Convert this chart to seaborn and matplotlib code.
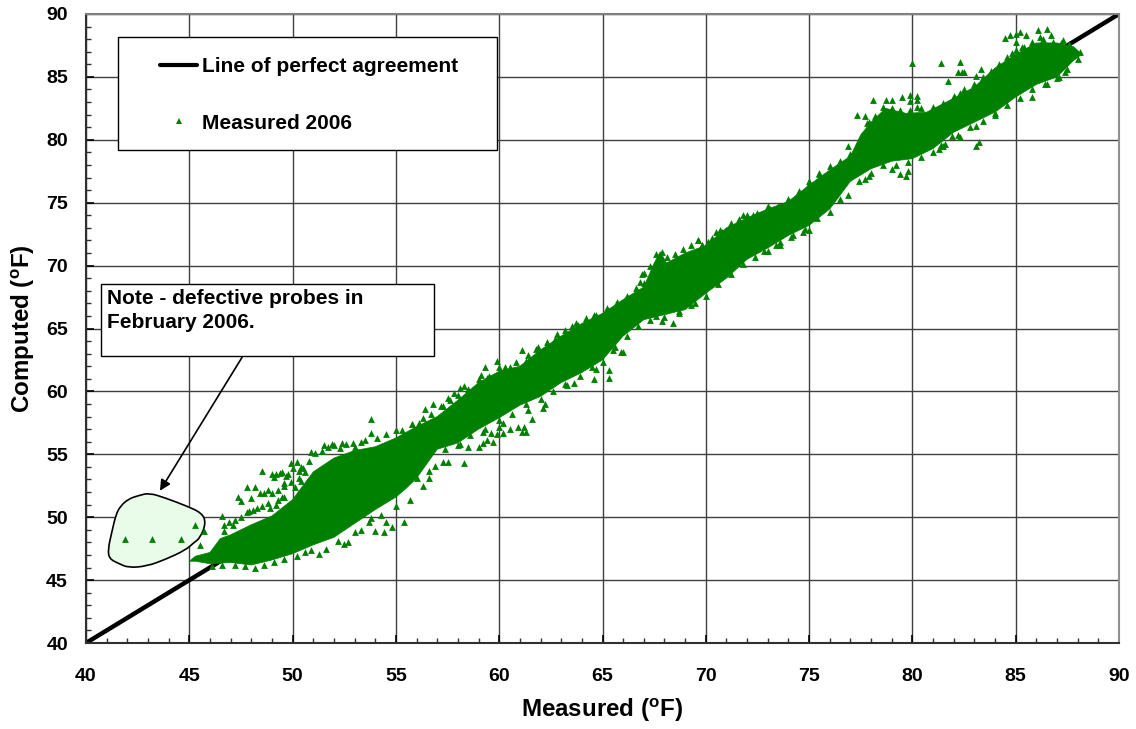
import numpy as np
import matplotlib.pyplot as plt
from matplotlib.patches import Rectangle, PathPatch
from matplotlib.path import Path
from matplotlib.lines import Line2D
import seaborn as sns

upper_x = [45.0, 45.3, 46, 46.5, 47, 48, 49, 50, 51, 52, 53, 54, 55, 56, 57, 58, 59, 60, 61, 62, 63, 64, 65, 66, 67,
           67.5, 67.8, 68.1, 69, 70, 71, 72, 73, 74, 75, 76, 77, 77.5, 78, 78.7, 79.7, 80.7, 82, 83, 84, 85, 86, 87,
           87.8, 88.2]
upper_y = [46.5, 46.9, 47.2, 48.3, 48.6, 49.4, 50.1, 51.4, 53.6, 54.7, 55.3, 55.6, 56.3, 57.2, 58, 59.3, 60.7, 61.6,
           62, 63.3, 64.4, 65.4, 66.2, 67.3, 68.3, 70.2, 71.1, 70.2, 71, 71.6, 73, 73.8, 74.5, 75.1, 76.4, 77.6, 78.7,
           80.4, 81.4, 82.5, 82.1, 82.2, 83.3, 84.2, 85.7, 86.8, 87.7, 87.7, 87.4, 86.8]
lower_x = [45.0, 45.3, 46, 47, 48, 49, 50, 51, 52, 53, 54, 55, 55.5, 56, 57, 58, 59, 60, 61, 62, 63, 64, 65, 66, 67,
           68, 69, 70, 71, 72, 73, 74, 75, 76, 77, 78, 79, 80, 81, 82, 83, 84, 85, 86, 87, 87.8, 88.2]
lower_y = [46.5, 46.5, 46.3, 46.4, 46.2, 46.6, 47.1, 47.8, 48.4, 49.5, 50.6, 51.6, 52.3, 53.1, 55.4, 55.9, 57, 57.9,
           58.9, 59.6, 60.7, 61.5, 62.5, 64.4, 65.7, 66.1, 66.5, 67.8, 69, 70.5, 71.4, 72.4, 73.2, 74.5, 76.7, 77.7,
           78.3, 78.5, 79.3, 80.6, 81.4, 82.2, 83.4, 84.4, 85, 86.3, 86.8]

# single points that stand clear of the dense part
measured = [41.9, 43.2, 44.6, 45.3, 45.7, 45.5, 46.6, 46.7, 46.7, 47.1, 47.35, 47.5, 47.8, 47.8, 48, 48.1, 48.2, 48.4,
            48.5, 48.5, 48.8, 48.8, 49, 49.2, 49.5, 49.8, 49.3, 49.6, 49.6, 49.9, 50.3, 50.5, 50.3, 50.9, 51.5, 51.9,
            52.4, 52.9, 53.3, 53.8, 53.8, 55.8, 50.6, 51.3, 52.7, 53, 54, 54.4, 54.8, 55.4, 54.5, 53.7,
            55.8, 56.1, 56.4, 56.8, 57.2, 57.5, 57.8, 58.1, 58.3, 59.1, 59.3, 59.4, 59.9, 60.5, 61.1, 61.3, 61.8, 62.7,
            63.5, 63.8, 64.7, 65.4, 66.9, 67, 66.8, 69.6, 70.1, 69.8,
            58.1, 58.5, 58.3, 57.5, 57.3, 56.9, 56.6, 56, 59, 59.2, 59.4, 59.7, 60, 60.5, 60.2, 60.9, 61.2, 61.3, 61.1,
            61.6, 61.4, 62.1, 62.2, 63.3, 63.6, 64.6, 65.3, 65.3, 64.7, 65.9, 66, 65.6, 67.9, 68.4, 68.7, 69.5, 67.6,
            59.2, 59.6, 59.9, 60.2,
            69.6, 69.8, 70.1, 70.5, 70.8, 71.8, 72, 72.3, 73.1, 75, 74.7, 74.1, 73.6, 73.4, 72.8, 75, 75.5, 76.9, 77.7,
            77.9, 76.9, 77.3, 77.7, 77.9, 78.1, 78.7, 79, 79.5, 79.9, 80.2, 79.9, 80.2, 80.2, 80, 81.4, 82.3, 82.2,
            82.4, 82.5, 81.7, 83.3, 83.1, 82.5, 82, 82.3, 79, 79.4, 79.7, 79.8, 81.4, 81.3, 81.5, 81.9, 82.3, 83.1,
            83.2, 83.1, 84, 85.8, 86.5, 87.1, 87.4, 87.3, 84.5, 84.7, 85.2, 85, 85.5, 86.1, 86.5, 86.2, 86.7, 85, 84.8,
            85.3]
computed = [48.25, 48.25, 48.25, 49.4, 48.9, 47.8, 50.1, 49.4, 48.9, 49.4, 51.6, 51.3, 52.4, 50.4, 51.5, 50.6, 52.4,
            51.9, 53.7, 50.9, 52.2, 51.1, 53.4, 53.4, 53.6, 53.4, 51.4, 52.7, 51.6, 54.3, 53.7, 53.9, 53.1, 55.2, 55.7,
            55.8, 55.9, 55.9, 56, 57.8, 56.7, 57.4, 47.2, 47.1, 48, 48.8, 48.9, 48.8, 49.2, 49.6, 49.6, 49.6,
            57.4, 57.5, 58.6, 59, 58.8, 59.5, 59.9, 60.3, 60.4, 61.3, 61.9, 61.1, 62.4, 61.9, 63.3, 62.4, 63.4, 64.2,
            65.2, 65.3, 66.1, 66.2, 69.3, 69.4, 68.7, 72, 71.9, 71.6,
            55.8, 55.6, 54.3, 54.4, 54.4, 54.1, 53.7, 53.1, 55.6, 55.9, 56.1, 56, 57.2, 57, 57.5, 57.2, 57.2, 56.8, 56.8,
            57.8, 58.5, 58.7, 59, 60.5, 60.7, 61, 61.1, 61.7, 61.8, 63.1, 63.1, 63.5, 65.6, 65.4, 66.4, 67, 66,
            56.8, 56.7, 56.6, 56.7,
            72, 71.6, 71.9, 72.7, 72.7, 74, 74, 74, 74.5, 72.8, 72.7, 72.3, 71.6, 71.6, 71.2, 76.5, 77.3, 75.6, 76.9,
            77.1, 79.5, 82, 81.9, 81.4, 83.2, 83.2, 83.2, 83.4, 83.6, 83.5, 83.1, 83.2, 82.6, 86.1, 86.1, 86.2, 85.4,
            85.4, 85.4, 84.7, 85.6, 85.1, 84, 83.5, 83.7, 77.7, 77.3, 77.1, 77.5, 79.6, 79.3, 79.5, 80.3, 80.2, 79.5,
            79.8, 81.1, 82.1, 83.4, 84.4, 85, 85.4, 87.9, 88.1, 88.3, 88.6, 88.4, 88.3, 88.7, 88.8, 88.2, 88.3, 87.8,
            86.9, 87.4]

# points that make up the rough rim of the cloud
rim_x = [49.1, 49.4, 49.7, 50, 50.2, 50.4, 50.6, 50.8, 51.1, 51.4, 51.7, 52, 52.3, 52.6, 53, 53.5, 54.1, 54.5, 55, 55.3,
         48.6, 49, 49.3, 49.6, 49.9, 50.1, 50.4, 48.3, 47.9, 47.5, 47.2, 46.9, 49.2, 49.5, 48.9, 50.7,
         46.1, 46.6, 47.2, 47.7, 48.2, 48.6, 49.1, 49.6, 50.2, 50.9, 51.6, 52.2, 52.5, 53.3, 53.8, 54.3, 55, 55.7, 56.3,
         56.6, 56.3, 56.7, 57.3,
         57.6, 58, 58.5, 59, 59.5, 60, 60.3, 60.8, 61.4, 61.9, 62.3, 62.8, 63.2, 63.7, 64.2, 64.6, 65.2, 65.7, 66.2,
         66.6, 67, 67.3, 67.6, 67.9, 68.1, 68.5, 68.9, 69.3, 70.3, 70.7, 71.2, 71.6, 72.5, 73, 73.5, 74, 74.5, 75, 75.5,
         76, 76.5, 77,
         57.4, 58, 58.6, 59.3, 60, 60.6, 61.3, 62, 62.6, 63.2, 63.9, 64.5, 65, 65.5, 66.2, 66.7, 67.3, 68, 68.7, 69.3,
         70, 70.6, 71.2, 71.8, 72.4, 73, 73.6, 74.2, 74.8, 75.4, 76, 76.5,
         77.8, 78.2, 78.6, 79, 79.4, 79.9, 80.4, 81, 81.5, 82, 82.5, 83, 83.4, 83.8, 84.2, 84.6, 85, 85.4, 85.8, 86.3,
         86.8, 87.2, 87.6,
         77.4, 78, 78.6, 79.2, 79.8, 80.4, 81, 81.6, 82.2, 82.8, 83.4, 84, 84.6, 85.2, 85.8, 86.4, 87, 87.5, 88, 88.1]
rim_y = [53.2, 53.5, 53.3, 53.9, 54.4, 54, 53.6, 54.5, 55.1, 55.3, 55.6, 55.7, 55.5, 55.8, 55.6, 56.1, 56.3, 56.6, 56.9,
         56.9,
         51.9, 51.9, 52.2, 52.5, 52.8, 52.4, 52.9, 50.7, 50.5, 50, 49.8, 49.6, 51, 51.6, 50.7, 52.8,
         46.1, 46.2, 46.2, 46.1, 46, 46.2, 46.4, 46.7, 46.9, 47.4, 47.5, 48.1, 47.9, 49, 49.9, 50.2, 50.9, 51.4, 52.5,
         53.1, 57.9, 58.2, 58.8,
         59.3, 59.7, 60.2, 61, 61.2, 61.9, 61.9, 62.3, 62.9, 63.5, 63.9, 64.6, 64.9, 65.4, 65.8, 66.1, 66.6, 67.1, 67.6,
         68.2, 68.6, 70, 70.9, 71.1, 70.7, 70.9, 71.3, 71.6, 72.2, 72.8, 73.4, 73.7, 74.2, 74.7, 74.7, 75.3, 75.9, 76.7,
         77.4, 77.9, 78.3, 78.9,
         55.4, 55.7, 56.5, 57, 57.7, 58.2, 59, 59.4, 60, 60.6, 61.2, 61.9, 62.3, 63.3, 64.4, 65.2, 65.7, 65.9, 66.2,
         66.9, 67.6, 68.5, 69.3, 70.1, 70.7, 71.2, 71.9, 72.4, 72.9, 73.8, 74.3, 75.3,
         81.3, 81.9, 82.6, 82.5, 82.4, 82.4, 82.5, 82.6, 82.9, 83.4, 83.9, 84.4, 85, 85.5, 86, 86.6, 87.1, 87.4, 87.8,
         88, 87.8, 87.7, 87.6,
         76.7, 77.4, 78, 78, 78.2, 78.6, 79, 79.7, 80.4, 81, 81.5, 82, 82.8, 83.3, 84, 84.4, 84.9, 85.6, 86.4, 87]

line_x = [40, 90]
line_y = [40, 90]
ticks = list(range(40, 95, 5))

# outline drawn round the defective probe readings
blob_x = [43.06, 42.55, 42.06, 41.66, 41.45, 41.26, 41.06, 41.13, 41.58, 42.06, 42.95, 43.84, 44.81, 45.21, 45.53,
          45.81, 45.61, 44.81, 43.84]
blob_y = [51.93, 51.72, 51.46, 50.87, 50.21, 48.89, 47.43, 46.69, 46.32, 45.98, 46.11, 46.64, 47.38, 47.96, 48.36,
          49.55, 50.34, 50.93, 51.53]

GREEN = '#008000'
W, H = 1136, 729

sns.set_theme(style='white')
plt.rcParams['font.family'] = ['Liberation Sans', 'DejaVu Sans']
plt.rcParams['font.weight'] = 'bold'
plt.rcParams['mathtext.fontset'] = 'custom'
plt.rcParams['mathtext.rm'] = 'Liberation Sans:bold'
plt.rcParams['mathtext.it'] = 'Liberation Sans:bold'
plt.rcParams['mathtext.bf'] = 'Liberation Sans:bold'

fig = plt.figure(figsize=(W / 100, H / 100), dpi=100)
ax = fig.add_axes([86 / W, (H - 643) / H, 1033 / W, 629 / H])

ax.set_axisbelow(True)
ax.grid(True, which='major', color='#404040', lw=1)

sns.lineplot(x=line_x, y=line_y, color='black', lw=3.2, ax=ax, zorder=2)

# pale patch first so the points sit on top of it
px = np.array(blob_x)
py = np.array(blob_y)
mx = (px + np.roll(px, -1)) / 2
my = (py + np.roll(py, -1)) / 2
verts = [(mx[-1], my[-1])]
codes = [Path.MOVETO]
for i in range(len(px)):
    verts += [(px[i], py[i]), (mx[i], my[i])]
    codes += [Path.CURVE3, Path.CURVE3]
ax.add_patch(PathPatch(Path(verts, codes), facecolor='#e9fbe9', edgecolor='black', lw=1.2, zorder=1.5))

ax.fill(upper_x + lower_x[::-1], upper_y + lower_y[::-1], color=GREEN, lw=0.5, zorder=3)
sns.scatterplot(x=measured, y=computed, marker='^', color=GREEN, s=24, linewidth=0, ax=ax, zorder=3)
sns.scatterplot(x=rim_x, y=rim_y, marker='^', color=GREEN, s=24, linewidth=0, ax=ax, zorder=3)

ax.set_xlim(40, 90)
ax.set_ylim(40, 90)
ax.set_xticks(ticks)
ax.set_yticks(ticks)
ax.set_xticks(range(40, 91), minor=True)
ax.set_yticks(range(40, 91), minor=True)
ax.tick_params(which='major', direction='in', length=6, width=1.2, color='black', left=True, bottom=True,
               labelsize=14)
ax.tick_params(axis='x', which='major', pad=18)
ax.tick_params(axis='y', which='major', pad=13)
ax.tick_params(which='minor', direction='in', length=3.6, width=1, color='#303030', left=True, bottom=True)
for lab in ax.get_xticklabels() + ax.get_yticklabels():
    lab.set_fontweight('bold')
    lab.set_color('black')
ax.spines['left'].set_color('#303030')
ax.spines['bottom'].set_color('#303030')
ax.spines['top'].set_color('#808080')
ax.spines['right'].set_color('#909090')
for s in ax.spines.values():
    s.set_linewidth(1.5)

fig.text(602 / W, 1 - 710 / H, r'Measured ($^{\mathrm{o}}$F)', ha='center', va='center', fontsize=17.4, color='black')
fig.text(23 / W, 1 - 413 / H, r'Computed ($^{\mathrm{o}}$F)', ha='center', va='bottom', rotation=90, fontsize=17.4,
         color='black')

# legend box
ax.add_patch(Rectangle((118 / W, 1 - 150 / H), 379 / W, 113 / H, transform=fig.transFigure, facecolor='white',
                       edgecolor='black', lw=1, zorder=6, clip_on=False))
handles = [Line2D([], [], color='black', lw=3),
           Line2D([], [], color=GREEN, marker='^', ms=5, mew=0, ls='none')]
leg = ax.legend(handles, ['Line of perfect agreement', 'Measured 2006'], loc='center left',
                bbox_to_anchor=(160 / W, 1 - 95 / H), bbox_transform=fig.transFigure, frameon=False, borderpad=0,
                borderaxespad=0, handlelength=1.78, handletextpad=0.24, labelspacing=1.8, fontsize=15)
leg.set_zorder(7)
for t in leg.get_texts():
    t.set_fontweight('bold')
    t.set_color('black')

# note with arrow
ax.annotate('', xy=(43.58, 52.1), xytext=(47.55, 62.7),
            arrowprops=dict(arrowstyle='-|>', color='black', lw=1.2, mutation_scale=16, shrinkA=0, shrinkB=0), zorder=5)
ax.add_patch(Rectangle((101 / W, 1 - 356 / H), 333 / W, 72 / H, transform=fig.transFigure, facecolor='white',
                       edgecolor='black', lw=1, zorder=6, clip_on=False))
ax.text(107 / W, 1 - 298 / H, 'Note - defective probes in', transform=fig.transFigure, ha='left', va='center',
        fontsize=15, color='black', zorder=7)
ax.text(107 / W, 1 - 323 / H, 'February 2006.', transform=fig.transFigure, ha='left', va='center', fontsize=15,
        color='black', zorder=7)

fig.savefig('out.png', dpi=100)
